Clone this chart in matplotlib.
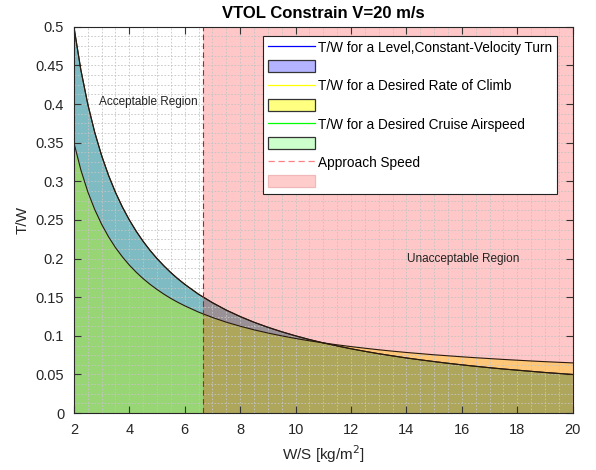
import matplotlib
matplotlib.use("Agg")
import matplotlib.pyplot as plt
from matplotlib.lines import Line2D
from matplotlib.patches import Patch
from matplotlib.ticker import MultipleLocator
import numpy as np

plt.rcParams['font.family'] = ['Liberation Sans', 'DejaVu Sans']

# wing loading W/S [kg/m^2]
ws = [2, 2.25, 2.5, 2.75, 3, 3.25, 3.5, 3.75, 4, 4.25, 4.5, 4.75, 5, 5.25, 5.5, 5.75, 6,
      6.5, 7, 7.5, 8, 8.5, 9, 9.5, 10, 10.5, 11, 11.5, 12, 12.5, 13, 13.5, 14, 14.5,
      15, 15.5, 16, 16.5, 17, 17.5, 18, 18.5, 19, 19.5, 20]

# T/W curves
turn_tw = [0.5, 0.4444, 0.4, 0.3636, 0.3333, 0.3077, 0.2857, 0.2667, 0.25, 0.2353, 0.2222,
           0.2105, 0.2, 0.1905, 0.1818, 0.1739, 0.1667, 0.1538, 0.1429, 0.1333, 0.125,
           0.1176, 0.1111, 0.1053, 0.1, 0.0952, 0.0909, 0.087, 0.0833, 0.08, 0.0769,
           0.0741, 0.0714, 0.069, 0.0667, 0.0645, 0.0625, 0.0606, 0.0588, 0.0571, 0.0556,
           0.0541, 0.0526, 0.0513, 0.05]
climb_tw = [0.35, 0.3148, 0.2866, 0.2636, 0.2444, 0.2282, 0.2142, 0.2022, 0.1916, 0.1823,
            0.174, 0.1666, 0.16, 0.1539, 0.1484, 0.1434, 0.1389, 0.1307, 0.1238, 0.1177,
            0.1125, 0.1078, 0.1037, 0.1, 0.0966, 0.0936, 0.0909, 0.0884, 0.0861, 0.084,
            0.082, 0.0802, 0.0785, 0.077, 0.0755, 0.0742, 0.0729, 0.0717, 0.0706, 0.0695,
            0.0685, 0.0675, 0.0666, 0.0658, 0.065]
cruise_tw = list(turn_tw)  # same as the turn curve at V=20 m/s

approach_ws = 6.67

a_blue, a_yel, a_grn, a_red = 0.35, 0.4, 0.24, 0.22

fig = plt.figure(figsize=(5.96, 4.70), dpi=100)
ax = fig.add_axes([0.124, 0.121, 0.837, 0.822])

ax.fill_between(ws, 0, turn_tw, facecolor='blue', alpha=a_blue, edgecolor='none')
ax.fill_between(ws, 0, climb_tw, facecolor='yellow', alpha=a_yel, edgecolor='none')
ax.fill_between(ws, 0, cruise_tw, facecolor=(0, 1, 0), alpha=a_grn, edgecolor='none')
ax.axvspan(approach_ws, 20, ymin=0, ymax=1, facecolor='red', alpha=a_red, edgecolor='none')

for y in [turn_tw, climb_tw, cruise_tw]:
    ax.plot(ws, y, color='#2a1a10', lw=0.8)
ax.axvline(approach_ws, color='red', lw=0.8, ls=(0, (5, 3)))

ax.text(4.67, 0.403, 'Acceptable Region', fontsize=8.5, ha='center', va='center', color='#222222')
ax.text(16.03, 0.2, 'Unacceptable Region', fontsize=8.5, ha='center', va='center', color='#222222')

ax.set_xlim(2, 20)
ax.set_ylim(0, 0.5)
ax.xaxis.set_major_locator(MultipleLocator(2))
ax.yaxis.set_major_locator(MultipleLocator(0.05))
ax.xaxis.set_minor_locator(MultipleLocator(0.5))
ax.yaxis.set_minor_locator(MultipleLocator(0.0125))
ax.yaxis.set_major_formatter(plt.FuncFormatter(lambda v, p: ('%g' % round(v, 3))))
ax.grid(which='both', color='#c4c4c4', ls=(0, (2, 2)), lw=0.6)
ax.tick_params(which='major', direction='in', top=True, right=True, length=5, pad=7,
               labelsize=10.5, color='#333333', labelcolor='#262626')
ax.tick_params(which='minor', length=0, top=True, right=True)
for s in ax.spines.values():
    s.set_color('#262626')
    s.set_linewidth(0.8)

ax.set_title('VTOL Constrain V=20 m/s', fontsize=12, fontweight='bold', pad=6)
ax.set_xlabel('W/S [kg/m$^2$]', fontsize=11, color='#262626', labelpad=5)
ax.set_ylabel('T/W', fontsize=11, color='#262626')

handles = [Line2D([], [], color='blue', lw=0.9),
           Patch(facecolor='#b3b3ff', edgecolor='#333333', lw=0.9),
           Line2D([], [], color='yellow', lw=0.9),
           Patch(facecolor='#ffff80', edgecolor='#333333', lw=0.9),
           Line2D([], [], color=(0, 1, 0), lw=0.9),
           Patch(facecolor='#ccffcc', edgecolor='#333333', lw=0.9),
           Line2D([], [], color='#ff8080', lw=0.9, ls=(0, (5, 3))),
           Patch(facecolor='#ffcccc', edgecolor='#f0b8b8', lw=0.9)]
labels = ['T/W for a Level,Constant-Velocity Turn', '',
          'T/W for a Desired Rate of Climb', '',
          'T/W for a Desired Cruise Airspeed', '',
          'Approach Speed', '']
leg = ax.legend(handles, labels, loc='upper right', bbox_to_anchor=(0.968, 0.976),
                fontsize=9.8, handlelength=3.4, handleheight=1.0, handletextpad=0.25,
                labelspacing=0.38, borderpad=0.35, borderaxespad=0, fancybox=False,
                framealpha=1)
leg.get_frame().set_edgecolor('#222222')
leg.get_frame().set_linewidth(0.8)

fig.savefig('out.png', dpi=100)
